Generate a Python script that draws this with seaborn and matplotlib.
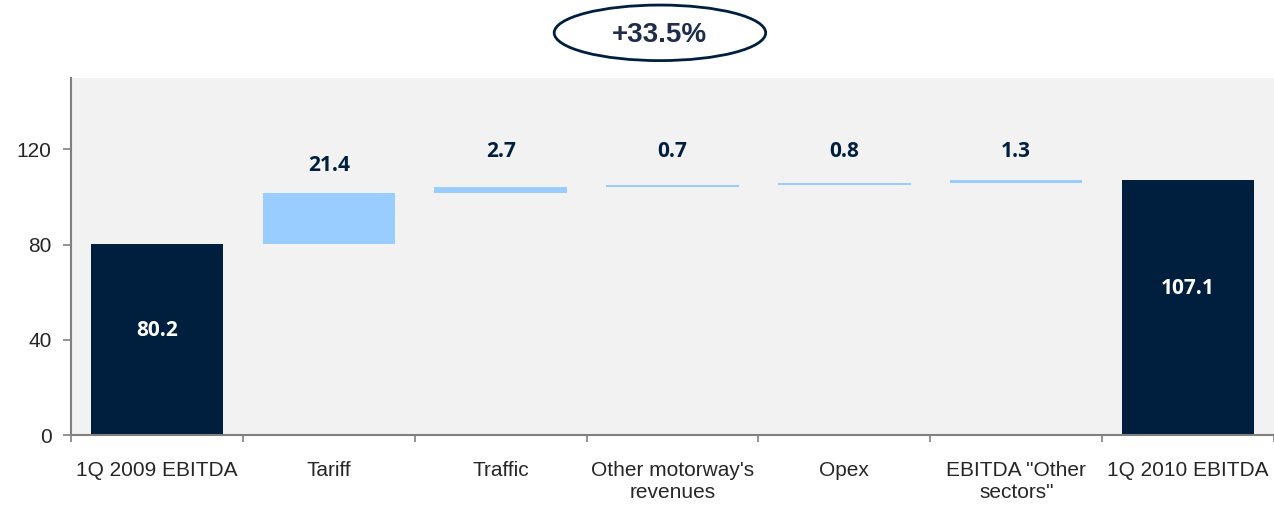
import numpy as np
import pandas as pd
import matplotlib
matplotlib.use("Agg")
import matplotlib.pyplot as plt
import seaborn as sns
from matplotlib.patches import Ellipse

# Datos
categorias = ["1Q 2009 EBITDA", "Tariff", "Traffic", "Other motorway's\nrevenues",
              "Opex", "EBITDA \"Other\nsectors\"", "1Q 2010 EBITDA"]
valores = [80.2, 21.4, 2.7, 0.7, 0.8, 1.3, 107.1]
tipo = ["total", "delta", "delta", "delta", "delta", "delta", "total"]
variacion = "+33.5%"

# Base y tope de cada barra (cascada)
base = []
acum = 0.0
for v, t in zip(valores, tipo):
    if t == "total":
        base.append(0.0)
        acum = v
    else:
        base.append(acum)
        acum += v
tope = [b + v for b, v in zip(base, valores)]

df = pd.DataFrame({"cat": categorias, "base": base, "tope": tope, "tipo": tipo})

navy = "#001f3f"
azul = "#99ccff"
fondo = "#f2f2f2"

sns.set_style("white")
plt.rcParams["font.family"] = ["Liberation Sans", "DejaVu Sans"]

fig = plt.figure(figsize=(12.74, 5.05), dpi=100)
ax = fig.add_axes([0.0557, 0.1386, 0.9443, 0.7069])
ax.set_facecolor(fondo)

sns.barplot(data=df, x="cat", y="tope", hue="tipo", palette={"total": navy, "delta": azul},
            dodge=False, width=0.77, legend=False, ax=ax, saturation=1, linewidth=0)
# tapar la parte de abajo de las barras intermedias
sns.barplot(data=df, x="cat", y="base", color=fondo, width=0.79, ax=ax, saturation=1,
            linewidth=0)

ax.set_ylim(0, 150)
ax.set_xlim(-0.5, len(categorias) - 0.5)
ax.set_yticks([0, 40, 80, 120])
ax.set_xlabel("")
ax.set_ylabel("")

# Etiquetas de valor
for i, (v, t, tp) in enumerate(zip(valores, tipo, tope)):
    if t == "total":
        ax.text(i, v * 0.575 if v > 100 else v * 0.545, f"{v:.1f}", ha="center",
                va="center", color="white", fontsize=15, fontweight="bold",
                family=["Open Sans", "DejaVu Sans"])
    else:
        y = 113.3 if v > 10 else 119.2
        ax.text(i, y, f"{v:.1f}", ha="center", va="center", color=navy,
                fontsize=15, fontweight="bold", family=["Open Sans", "DejaVu Sans"])

# Ejes
for s in ["top", "right"]:
    ax.spines[s].set_visible(False)
for s in ["left", "bottom"]:
    ax.spines[s].set_color("#808080")
    ax.spines[s].set_linewidth(1.5)
ax.tick_params(axis="y", which="major", length=6, width=1.2, color="#808080",
               labelsize=15, pad=8, left=True)
ax.tick_params(axis="x", which="major", length=0, labelsize=15, pad=19)
ax.set_xticks(np.arange(-0.5, len(categorias)), minor=True)
ax.tick_params(axis="x", which="minor", length=5, width=1.2, color="#808080", bottom=True)
ax.set_xticks(range(len(categorias)))
ax.set_xticklabels(categorias, linespacing=1.2)
for lbl in ax.get_xticklabels():
    lbl.set_va("top")

# Elipse con la variación
elipse = Ellipse((0.518, 0.935), 0.166, 0.11, transform=fig.transFigure,
                 facecolor="white", edgecolor=navy, linewidth=2)
fig.patches.append(elipse)
fig.text(0.518, 0.931, variacion, ha="center", va="center", color="#1f2d4a",
         fontsize=20, fontweight="bold")

plt.savefig("out.png", dpi=100)
